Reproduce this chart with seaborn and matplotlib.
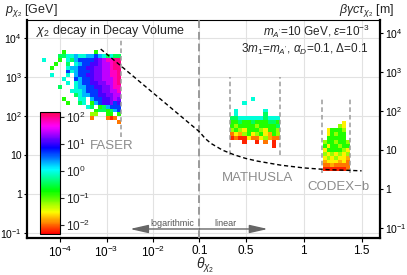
import numpy as np
import matplotlib
matplotlib.use("Agg")
import matplotlib.pyplot as plt
import seaborn as sns
from matplotlib.colors import ListedColormap, Normalize, LogNorm
from matplotlib.cm import ScalarMappable

# ---- data ----
# cell codes -> log10(weight)
CODE = {"R": -2.2, "O": -1.95, "A": -1.77, "Y": -1.57, "L": -1.2, "G": -0.82,
        "T": -0.45, "C": -0.07, "S": 0.3, "B": 0.68, "V": 1.06, "P": 1.25,
        "M": 1.44, "K": 1.82, "Q": 2.0}

# FASER: log10(theta) -4.38 .. -2.68 (20 bins), log10(p) 3.7 (top) .. 1.8 (19 bins)
faser_logtheta = (-4.38, -2.68)
faser_logp = (1.8, 3.7)
faser_rows = [
    ".....G.......G......",
    "....TTCCSCCSSBSCTCTT",
    "C...G.CTSBBBBVPMKKQQ",
    "...G..T.CSBBVVPMMKQQ",
    "..G...CSSBBVVPPMMKQQ",
    "......BCSBBBVPPMMKKQ",
    "..C...C.SBBVVPPMMKKQ",
    ".....C..BSBBVPPMMMKQ",
    "......C.CSBBVVPPMMKQ",
    "....T...CSSBBVVPPMKK",
    ".......CCCSBBBVPPMMK",
    "........TCSSBBVVPPMM",
    ".....G...CC.SBBVVPMP",
    "......G..TC.GSBVVPBV",
    "...........CT.GTSBBB",
    ".............GTTGTSB",
    "............LL..GG.G",
    "............O...ORO.",
    "...................O",
]

# MATHUSLA: theta 0.361 .. 0.798 (12 bins), log10(p) 2.5 .. 1.2 (13 bins)
mathusla_theta = (0.361, 0.798)
mathusla_logp = (1.2, 2.5)
mathusla_rows = [
    ".....C......",
    "...C........",
    "............",
    ".C......C...",
    ".C......T...",
    "TTCCCCCCTCCC",
    "GGTGGTGGGTTG",
    "GLGGGGLGGGGT",
    "LGLYGGGLYGGL",
    "OYALGYLGYAGL",
    "RORRYOOYLAOO",
    "...R..R.O.R.",
    "..........R.",
]

# CODEX-b: theta 1.164 .. 1.397 (7 bins), log10(p) 1.89 .. 0.59 (13 bins)
codex_theta = (1.164, 1.397)
codex_logp = (0.59, 1.89)
codex_rows = [
    ".....Y.",
    "....LY.",
    ".YGGGL.",
    ".YGLGG.",
    ".GGGGG.",
    "LGGLGGL",
    "GYGGLGG",
    "YGGGGLY",
    "LYLYLYL",
    "YLYLYYA",
    "AYYYAYO",
    "OOAOOOO",
    "RRRRRRO",
]

# dashed decay-length curve
curve_theta = [7.5e-4, 2.15e-3, 1e-2, 0.1, 0.15, 0.2, 0.3, 0.4, 0.5, 0.6, 0.8, 1.0, 1.2, 1.5]
curve_p = [5300, 1860, 400, 40, 26.8, 20.1, 13.5, 10.3, 8.3, 7.1, 5.6, 4.75, 4.3, 4.0]

# detector acceptance lines (theta, p range)
faser_line = ([2.1e-3], (30, 1e4))
mathusla_line = ([0.361, 0.798], (10, 1000))
codex_line = ([1.161, 1.396], (3.5, 316))

x_ticks = [1e-4, 1e-3, 1e-2, 0.1, 0.5, 1, 1.5]
x_labels = [r"$10^{-4}$", r"$10^{-3}$", r"$10^{-2}$", "0.1", "0.5", "1", "1.5"]
y_ticks = [1e-1, 1, 10, 1e2, 1e3, 1e4]
y_labels = [r"$10^{-1}$", "1", "10", r"$10^{2}$", r"$10^{3}$", r"$10^{4}$"]
cb_ticks = [1e-2, 1e-1, 1, 10, 1e2]
cb_labels = [r"$10^{-2}$", r"$10^{-1}$", r"$10^{0}$", r"$10^{1}$", r"$10^{2}$"]

# ---- hybrid log/linear x scale ----
K = 2.49  # decades per unit theta in the linear part


def fwd(t):
    t = np.asarray(t, dtype=float)
    with np.errstate(divide="ignore", invalid="ignore"):
        return np.where(t <= 0.1, np.log10(t), -1 + (t - 0.1) * K)


def inv(x):
    x = np.asarray(x, dtype=float)
    with np.errstate(over="ignore"):
        return np.where(x <= -1, 10.0 ** np.minimum(x, -1), 0.1 + (x + 1) / K)


def parse(rows):
    return np.ma.masked_invalid(np.array([[CODE.get(ch, np.nan) for ch in r] for r in rows])[::-1])


sns.set_style("white")
plt.rcParams["font.family"] = ["Liberation Sans", "DejaVu Sans"]
plt.rcParams["mathtext.fontset"] = "custom"
plt.rcParams["mathtext.rm"] = "Liberation Sans"
plt.rcParams["mathtext.it"] = "Liberation Sans:italic"
plt.rcParams["mathtext.sf"] = "Liberation Sans"

cmap = ListedColormap(plt.cm.hsv(np.linspace(0, 0.96, 256)))
vmin, vmax = -2.33, 2.19
norm = Normalize(vmin, vmax)

fig = plt.figure(figsize=(4.07, 2.75), dpi=100)
ax = fig.add_axes([0.0656, 0.1356, 0.868, 0.7916])
ax.set_xscale("function", functions=(fwd, inv))
ax.set_yscale("log")
ymin, ymax = 10 ** -1.113, 10 ** 4.469
ax.set_xlim(1.92e-5, 1.659)
ax.set_ylim(ymin, ymax)
ax.set_axisbelow(True)
ax.grid(True, color="#e2e2e2", lw=0.8)

# heatmaps
ax.pcolormesh(10 ** np.linspace(*faser_logtheta, 21), 10 ** np.linspace(*faser_logp, 20),
              parse(faser_rows), cmap=cmap, norm=norm, shading="flat", zorder=2)
ax.pcolormesh(np.linspace(*mathusla_theta, 13), 10 ** np.linspace(*mathusla_logp, 14),
              parse(mathusla_rows), cmap=cmap, norm=norm, shading="flat", zorder=2)
ax.pcolormesh(np.linspace(*codex_theta, 8), 10 ** np.linspace(*codex_logp, 14),
              parse(codex_rows), cmap=cmap, norm=norm, shading="flat", zorder=2)

# detector lines
for th, (p0, p1) in (faser_line, mathusla_line, codex_line):
    ax.vlines(th, p0, p1, colors="#9a9a9a", linestyles=(0, (3, 2)), lw=1.1, zorder=3)
ax.axvline(0.1, color="#9a9a9a", ls=(0, (4, 2)), lw=1.4, zorder=3)

sns.lineplot(x=curve_theta, y=curve_p, ax=ax, color="black", lw=1.0,
             linestyle=(0, (3, 2)), sort=False, zorder=4)

ax.set_xticks(x_ticks)
ax.set_xticklabels(x_labels)
ax.set_yticks(y_ticks)
ax.set_yticklabels(y_labels)
ax.minorticks_off()
ax.tick_params(bottom=True, left=True, direction="out", length=3, width=0.8,
               colors="black", labelsize=8.5, pad=2)
ax.tick_params(axis="y", labelsize=7.5, length=2.5, pad=1)
for side in ("left", "bottom", "right"):
    ax.spines[side].set_linewidth(1.6)
    ax.spines[side].set_color("black")
ax.spines["top"].set_linewidth(0.8)
ax.spines["top"].set_color("black")

ax2 = ax.twinx()
f = 10 ** 0.128
ax2.set_yscale("log")
ax2.set_ylim(ymin / f, ymax / f)
ax2.set_yticks(y_ticks)
ax2.set_yticklabels(y_labels)
ax2.minorticks_off()
ax2.tick_params(right=True, direction="out", length=2.5, width=0.8, colors="black",
                labelsize=7.5, pad=1)
for s in ax2.spines.values():
    s.set_visible(False)

# texts
tsize = 8.5
ax.text(0.026, 0.949, r"$\chi_2$ decay in Decay Volume", transform=ax.transAxes,
        fontsize=9, va="center", ha="left")
ax.text(0.972, 0.947, r"$m_{A'}$=10 GeV, $\epsilon$=10$^{-3}$", transform=ax.transAxes,
        fontsize=tsize, va="center", ha="right")
ax.text(0.968, 0.864, r"3$m_1$=$m_{A'}$, $\alpha_D$=0.1, $\Delta$=0.1", transform=ax.transAxes,
        fontsize=tsize, va="center", ha="right")
gray = "#8c8c8c"
fig.text(112 / 407, 1 - 146 / 275, "FASER", color=gray, fontsize=9.5, ha="center", va="center")
fig.text(257.5 / 407, 1 - 178 / 275, "MATHUSLA", color=gray, fontsize=9.5, ha="center", va="center")
fig.text(338.5 / 407, 1 - 187 / 275, "CODEX\u2212b", color=gray, fontsize=9.5, ha="center", va="center")
fig.text(172.5 / 407, 1 - 223 / 275, "logarithmic", color="#555555", fontsize=6.5, ha="center", va="center")
fig.text(225 / 407, 1 - 223 / 275, "linear", color="#555555", fontsize=6.5, ha="center", va="center")

arrow_p = 0.129
for tip in (3.2e-3, 0.69):
    ax.annotate("", xy=(tip, arrow_p), xytext=(0.1, arrow_p),
                arrowprops=dict(arrowstyle="-|>,head_length=1.1,head_width=0.25",
                                color="#666666", lw=1.0, shrinkA=0, shrinkB=0))

fig.text(0.012, 1 - 2 / 275, r"$p_{\chi_2}$ [GeV]", fontsize=9, ha="left", va="top")
fig.text(0.968, 1 - 2 / 275, r"$\beta\gamma c\tau_{\chi_2}$ [m]", fontsize=9, ha="right", va="top")
fig.text(205 / 407, 1 - 265 / 275, r"$\theta_{\chi_2}$", fontsize=10, ha="center", va="center")

# colorbar
cax = fig.add_axes([0.0983, 0.149, 0.0491, 0.4447])
sm = ScalarMappable(norm=LogNorm(10 ** vmin, 10 ** vmax), cmap=cmap)
cb = fig.colorbar(sm, cax=cax)
cb.set_ticks(cb_ticks)
cb.set_ticklabels(cb_labels)
cb.ax.minorticks_off()
cb.ax.tick_params(labelsize=8.5, length=3, width=0.8, direction="out", pad=1)
cb.outline.set_linewidth(0.8)
cb.outline.set_edgecolor("black")

fig.savefig("out.png", dpi=100)
